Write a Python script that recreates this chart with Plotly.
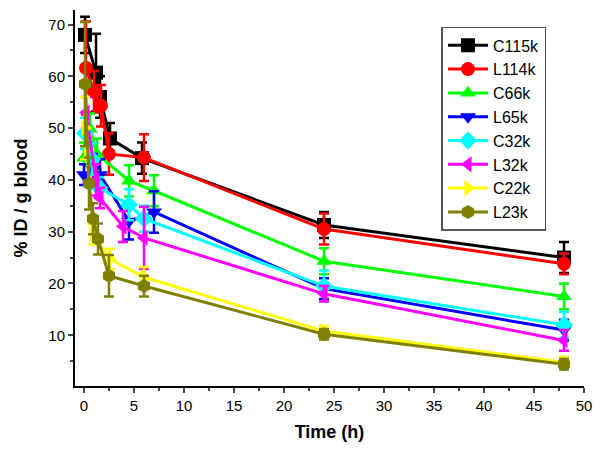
import plotly.graph_objects as go

# series: name, times (h, slightly jittered as in the original), values, errors
names = ["C115k", "L114k", "C66k", "L65k", "C32k", "L32k", "C22k", "L23k"]
colors = ["#000000", "#ff0000", "#00ff00", "#0000ff", "#00ffff", "#ff00ff", "#ffff00", "#808000"]
symbols = ["square", "circle", "triangle-up", "triangle-down", "diamond",
           "triangle-left", "triangle-right", "hexagon"]

t_c115 = [0.1, 1.2, 1.6, 2.6, 5.8, 24, 48]
v_c115 = [68.0, 60.7, 56.0, 48.0, 44.2, 31.3, 25.0]
e_c115 = [3.5, 7.5, 4.0, 3.0, 3.0, 2.5, 3.0]

t_l114 = [0.2, 1.0, 1.7, 2.5, 6.0, 24, 48]
v_l114 = [61.6, 57.0, 54.3, 45.0, 44.3, 30.5, 23.8]
e_l114 = [9.0, 4.0, 4.0, 4.0, 4.5, 3.0, 2.0]

t_c66 = [0.0, 0.6, 1.3, 4.5, 7.0, 24, 48]
v_c66 = [44.2, 49.8, 45.0, 39.8, 37.9, 24.3, 17.5]
e_c66 = [3.0, 3.0, 3.0, 3.0, 3.0, 2.5, 2.5]

t_l65 = [0.0, 0.9, 1.6, 4.5, 7.0, 24, 48]
v_l65 = [41.0, 42.0, 41.0, 32.0, 33.8, 19.0, 11.0]
e_l65 = [2.0, 3.0, 3.0, 3.5, 4.0, 2.0, 2.0]

t_c32 = [0.1, 0.8, 1.5, 4.5, 6.0, 24, 48]
v_c32 = [49.0, 44.0, 38.5, 35.2, 32.5, 19.5, 12.0]
e_c32 = [3.0, 3.0, 2.0, 3.0, 2.5, 3.0, 2.5]

t_l32 = [0.2, 1.2, 1.6, 3.9, 6.0, 24, 48]
v_l32 = [53.0, 40.0, 36.5, 31.0, 28.8, 18.0, 9.0]
e_l32 = [3.0, 3.0, 2.0, 3.0, 6.0, 1.5, 2.0]

t_c22 = [0.1, 0.9, 2.6, 6.0, 24, 48]
v_c22 = [50.0, 29.5, 24.7, 21.2, 10.8, 4.8]
e_c22 = [6.0, 2.0, 2.0, 2.0, 1.0, 1.0]

t_l23 = [0.1, 0.5, 0.9, 1.4, 2.5, 6.0, 24, 48]
v_l23 = [58.5, 39.3, 32.5, 28.6, 21.5, 19.5, 10.2, 4.4]
e_l23 = [12.0, 5.0, 3.0, 3.0, 4.0, 2.0, 1.0, 1.0]

times = [t_c115, t_l114, t_c66, t_l65, t_c32, t_l32, t_c22, t_l23]
values = [v_c115, v_l114, v_c66, v_l65, v_c32, v_l32, v_c22, v_l23]
errors = [e_c115, e_l114, e_c66, e_l65, e_c32, e_l32, e_c22, e_l23]

fig = go.Figure()

for name, color, sym, t, v, e in zip(names, colors, symbols, times, values, errors):
    fig.add_trace(go.Scatter(
        x=t, y=v, name=name, mode="lines+markers",
        line=dict(color=color, width=3),
        marker=dict(symbol=sym, size=14, color=color),
        error_y=dict(type="data", array=e, color=color, thickness=2.5, width=5),
    ))

# page body adds an 8px margin; keep the figure small enough to avoid scrollbars
font = "Liberation Sans, Arial, sans-serif"
fig.update_layout(
    width=586, height=436,
    margin=dict(l=67, r=6, t=2, b=58),
    paper_bgcolor="white", plot_bgcolor="white",
    font=dict(family=font, size=15, color="black"),
    showlegend=True,
    legend=dict(
        x=0.72, y=0.955, xanchor="left", yanchor="top",
        bordercolor="#555555", borderwidth=1.5, bgcolor="white",
        font=dict(size=16, family=font), itemwidth=40,
    ),
    xaxis=dict(
        range=[-0.9, 50], showgrid=False, zeroline=False,
        showline=True, linecolor="black", linewidth=2,
        ticks="outside", tickwidth=1.5, ticklen=5, dtick=5,
        ticklabeloverflow="allow",
        minor=dict(ticks="outside", ticklen=3, dtick=2.5, tickwidth=1.5),
        title=dict(text="<b>Time (h)</b>", font=dict(size=18), standoff=12),
    ),
    yaxis=dict(
        range=[0.2, 72.8], showgrid=False, zeroline=False,
        showline=True, linecolor="black", linewidth=2,
        ticks="outside", tickwidth=1.5, ticklen=5, dtick=10,
        minor=dict(ticks="outside", ticklen=3, dtick=5, tickwidth=1.5),
        title=dict(text="<b>% ID / g blood</b>", font=dict(size=18), standoff=16),
    ),
)

fig.write_html("out.html")
